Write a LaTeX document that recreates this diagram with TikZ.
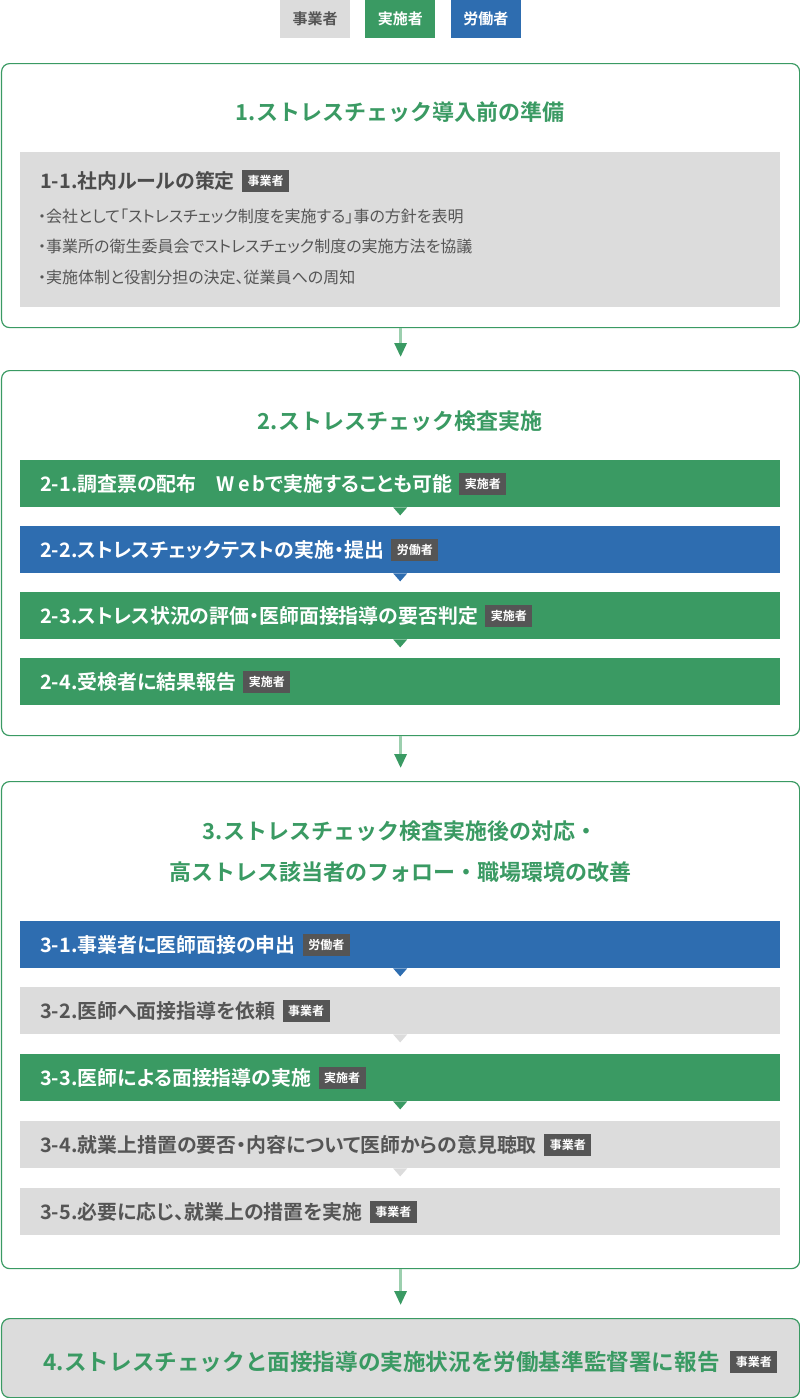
\documentclass[tikz,border=0pt]{standalone}
\usepackage{fontspec}
\setmainfont{Noto Sans CJK JP}[BoldFont={Noto Sans CJK JP Bold}]
\newfontfamily\paltfont{Noto Sans CJK JP}[BoldFont={Noto Sans CJK JP Bold}, RawFeature=+palt]
\usetikzlibrary{
	arrows.meta,
	positioning,
	calc
}
\definecolor{jgreen}{HTML}{3A9A63}
\definecolor{jblue}{HTML}{2E6DB0}
\definecolor{jgray}{HTML}{DCDCDC}
\definecolor{jtext}{HTML}{555555}
\definecolor{jtag}{HTML}{555555}
\definecolor{jline}{HTML}{9CCFAE}

\begin{document}
\begin{tikzpicture}[
				x=1pt, y=-1pt,
				legend/.style={
					rectangle, minimum width=70pt, minimum height=38pt,
					inner sep=0pt, font=\bfseries\fontsize{15}{18}\selectfont
				},
				frame/.style={
					rectangle, draw=jgreen, line width=1.2pt, rounded corners=8pt,
					minimum width=798pt, anchor=north west, inner sep=0pt
				},
				bar/.style={
					rectangle, minimum width=760pt, minimum height=47pt,
					inner sep=0pt, anchor=north west
				},
				greenbar/.style={bar, fill=jgreen},
				bluebar/.style={bar, fill=jblue},
				graybar/.style={bar, fill=jgray},
				bartext/.style={
					anchor=west, inner sep=0pt, text=white,
					font=\paltfont\bfseries\fontsize{19.9}{23}\selectfont
				},
				graytext/.style={bartext, text=jtext},
				tag/.style={
					rectangle, fill=jtag, text=white, inner sep=0pt,
					minimum width=47pt, minimum height=22pt,
					font=\bfseries\fontsize{12}{14}\selectfont
				},
				title/.style={text=jgreen, font=\bfseries\fontsize{22}{41}\selectfont, align=center},
				bullet/.style={anchor=west, inner sep=0pt, text=jtext, font=\paltfont\fontsize{16}{18}\selectfont},
				arrow/.style={jline, line width=3pt, shorten >=13pt,
					-{Triangle[width=12pt, length=14pt, color=jgreen, fill=jgreen]}}
				]
				\useasboundingbox (0,0) rectangle (800,1398);
				
				% legend
				\node[legend, fill=jgray, text=jtext] (lgemp) at (315,19) {事業者};
				\node[legend, fill=jgreen, text=white, right=15pt of lgemp] (lgexe) {実施者};
				\node[legend, fill=jblue, text=white, right=15pt of lgexe] (lgwrk) {労働者};
				
				% 1. before introduction
				\node[frame, minimum height=264pt] (step1) at (1,63) {};
				\node[title] (t1) at (400,112) {1.ストレスチェック導入前の準備};
				\node[graybar, minimum height=155pt] (b11) at (20,152) {};
				\node[graytext, text=jtext!90!black] (l11) at (40,181) {1-1.社内ルールの策定};
				\node[tag, right=7pt of l11] (g11) {事業者};
				\node[bullet] (p1) at (38,216) {・会社として「ストレスチェック制度を実施する」事の方針を表明};
				\node[bullet] (p2) at (38,246) {・事業所の衛生委員会でストレスチェック制度の実施方法を協議};
				\node[bullet] (p3) at (38,277) {・実施体制と役割分担の決定、従業員への周知};
				
				% 2. check
				\node[frame, minimum height=365pt] (step2) at (1,370) {};
				\node[title] (t2) at (400,421) {2.ストレスチェック検査実施};
				\node[greenbar] (b21) at (20,460) {};
				\node[bartext] (l21) at ($(b21.west)+(20,0)$) {2-1.調査票の配布　W\,e\,bで実施することも可能};
				\node[tag, right=7pt of l21] (g21) {実施者};
				\node[bluebar] (b22) at (20,526) {};
				\node[bartext] (l22) at ($(b22.west)+(20,0)$) {2-2.ストレスチェックテストの実施・提出};
				\node[tag, right=7pt of l22] (g22) {労働者};
				\node[greenbar] (b23) at (20,592) {};
				\node[bartext] (l23) at ($(b23.west)+(20,0)$) {2-3.ストレス状況の評価・医師面接指導の要否判定};
				\node[tag, right=7pt of l23] (g23) {実施者};
				\node[greenbar] (b24) at (20,658) {};
				\node[bartext] (l24) at ($(b24.west)+(20,0)$) {2-4.受検者に結果報告};
				\node[tag, right=7pt of l24] (g24) {実施者};
				
				% 3. after the check
				\node[frame, minimum height=487pt] (step3) at (1,781) {};
				\node[title] (t3) at (400,852) {3.ストレスチェック検査実施後の対応・\\高ストレス該当者のフォロー・職場環境の改善};
				\node[bluebar] (b31) at (20,921) {};
				\node[bartext] (l31) at ($(b31.west)+(20,0)$) {3-1.事業者に医師面接の申出};
				\node[tag, right=7pt of l31] (g31) {労働者};
				\node[graybar] (b32) at (20,987) {};
				\node[graytext] (l32) at ($(b32.west)+(20,0)$) {3-2.医師へ面接指導を依頼};
				\node[tag, right=7pt of l32] (g32) {事業者};
				\node[greenbar] (b33) at (20,1054) {};
				\node[bartext] (l33) at ($(b33.west)+(20,0)$) {3-3.医師による面接指導の実施};
				\node[tag, right=7pt of l33] (g33) {実施者};
				\node[graybar] (b34) at (20,1121) {};
				\node[graytext] (l34) at ($(b34.west)+(20,0)$) {3-4.就業上措置の要否・内容について医師からの意見聴取};
				\node[tag, right=7pt of l34] (g34) {事業者};
				\node[graybar] (b35) at (20,1188) {};
				\node[graytext] (l35) at ($(b35.west)+(20,0)$) {3-5.必要に応じ、就業上の措置を実施};
				\node[tag, right=7pt of l35] (g35) {事業者};
				
				% 4. report
				\node[frame, fill=jgray, minimum height=79pt] (step4) at (1,1318) {};
				\node[title, anchor=west, font=\bfseries\fontsize{22.6}{26}\selectfont] (l4) at (40,1362) {4.ストレスチェックと面接指導の実施状況を労働基準監督署に報告};
				\node[tag, right=7pt of l4] (g4) {事業者};
				
				% small pointers under the bars
				\foreach \b/\c in {b21/jgreen, b22/jblue, b23/jgreen, b31/jblue, b32/jgray, b33/jgreen, b34/jgray}{
					\fill[\c] ($(\b.south)+(-7,0)$) -- ($(\b.south)+(7,0)$) -- ($(\b.south)+(0,8)$) -- cycle;
				}
				
				% arrows between the steps
				\draw[arrow] (step1.south) -- (step2.north);
				\draw[arrow] (step2.south) -- (step3.north);
				\draw[arrow] (step3.south) -- (step4.north);
			\end{tikzpicture}
\end{document}
